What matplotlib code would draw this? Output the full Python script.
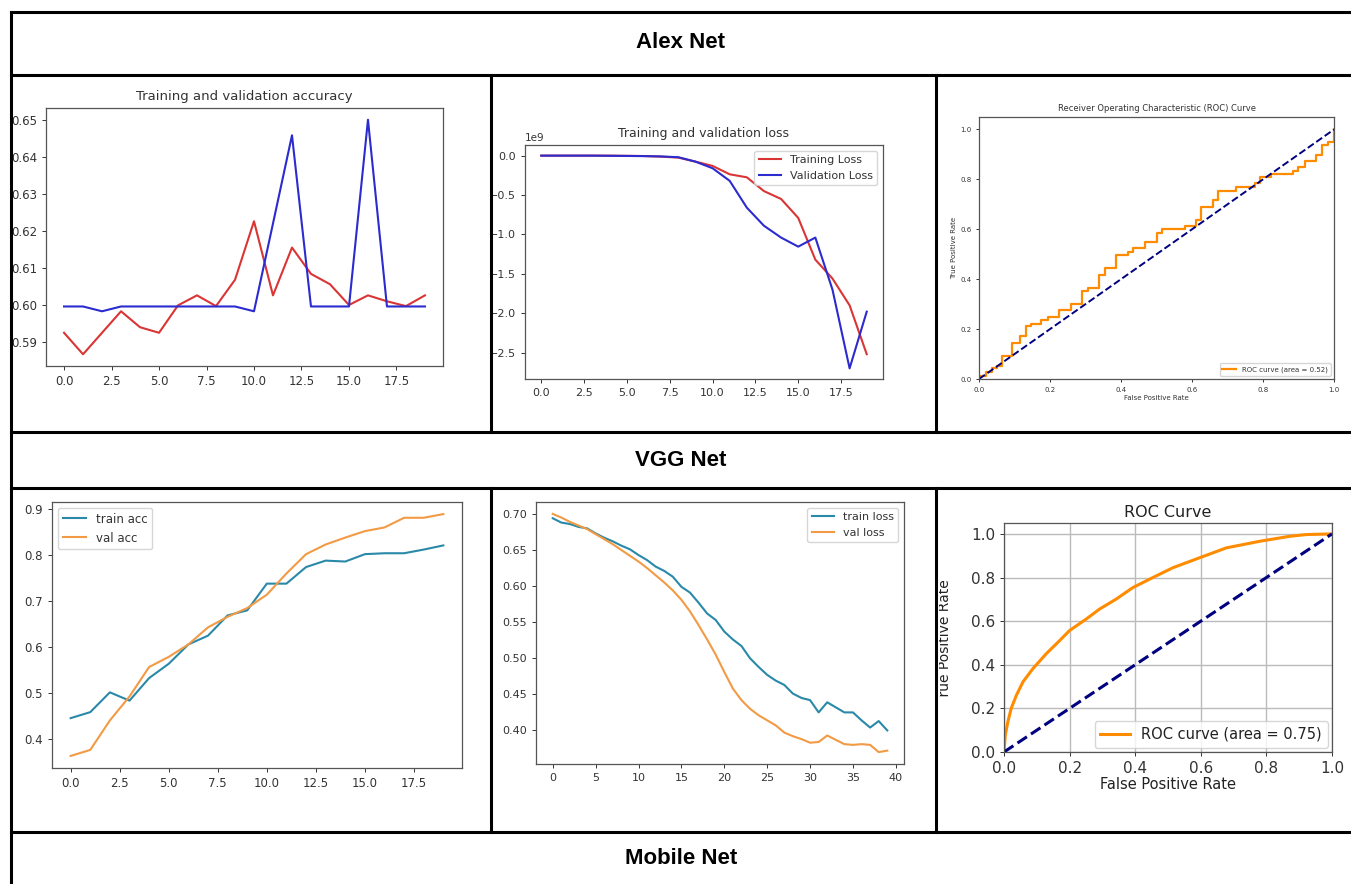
import numpy as np
import matplotlib
matplotlib.use('Agg')
import matplotlib.pyplot as plt
from matplotlib.lines import Line2D
from matplotlib.transforms import Bbox, TransformedBbox

# ---------------- data ----------------
headers = ["Alex Net", "VGG Net", "Mobile Net"]

alex_epochs = list(range(20))
alex_train_acc = [0.5925, 0.5867, 0.5925, 0.5983, 0.5940, 0.5925, 0.5999, 0.6026, 0.5997, 0.6068,
                  0.6226, 0.6026, 0.6155, 0.6084, 0.6056, 0.6000, 0.6026, 0.6010, 0.5997, 0.6026]
alex_val_acc = [0.5996, 0.5996, 0.5983, 0.5996, 0.5996, 0.5996, 0.5996, 0.5996, 0.5996, 0.5996,
                0.5983, 0.6220, 0.6458, 0.5996, 0.5996, 0.5996, 0.6500, 0.5996, 0.5996, 0.5996]

# losses in units of 1e9
alex_train_loss = [0.0, 0.0, 0.0, 0.0, 0.0, -0.002, -0.005, -0.013, -0.025, -0.076,
                   -0.13, -0.237, -0.275, -0.45, -0.55, -0.79, -1.32, -1.56, -1.90, -2.52]
alex_val_loss = [0.0, 0.0, 0.0, 0.0, -0.002, -0.004, -0.006, -0.010, -0.020, -0.076,
                 -0.16, -0.32, -0.66, -0.89, -1.04, -1.155, -1.04, -1.70, -2.70, -1.98]

alex_fpr = [0.000, 0.000, 0.019, 0.038, 0.051, 0.064, 0.094, 0.115, 0.131, 0.147, 0.176, 0.194,
            0.225, 0.260, 0.291, 0.307, 0.338, 0.354, 0.387, 0.420, 0.434, 0.467, 0.500, 0.516,
            0.579, 0.612, 0.626, 0.659, 0.673, 0.725, 0.777, 0.791, 0.823, 0.885, 0.899, 0.917,
            0.948, 0.967, 0.984, 1.000]
alex_tpr = [0.000, 0.012, 0.029, 0.045, 0.053, 0.092, 0.144, 0.173, 0.212, 0.221, 0.235, 0.249,
            0.275, 0.301, 0.353, 0.365, 0.416, 0.445, 0.495, 0.509, 0.523, 0.548, 0.585, 0.600,
            0.613, 0.639, 0.691, 0.717, 0.755, 0.768, 0.787, 0.809, 0.821, 0.835, 0.848, 0.872,
            0.899, 0.939, 0.949, 1.000]
alex_auc = 0.52

vgg_epochs_acc = list(range(20))
vgg_train_acc = [0.445, 0.458, 0.501, 0.483, 0.532, 0.563, 0.605, 0.624, 0.668, 0.679,
                 0.737, 0.737, 0.773, 0.787, 0.785, 0.801, 0.803, 0.803, 0.811, 0.820]
vgg_val_acc = [0.363, 0.376, 0.440, 0.492, 0.556, 0.578, 0.605, 0.642, 0.665, 0.684,
               0.713, 0.759, 0.801, 0.822, 0.837, 0.851, 0.859, 0.880, 0.880, 0.888]

vgg_epochs_loss = list(range(40))
vgg_train_loss = [0.694, 0.688, 0.686, 0.682, 0.680, 0.673, 0.667, 0.662, 0.656, 0.651,
                  0.643, 0.636, 0.627, 0.621, 0.613, 0.599, 0.591, 0.577, 0.562, 0.553,
                  0.537, 0.526, 0.517, 0.500, 0.488, 0.477, 0.469, 0.463, 0.451, 0.445,
                  0.442, 0.425, 0.439, 0.432, 0.425, 0.425, 0.414, 0.404, 0.413, 0.400]
vgg_val_loss = [0.700, 0.695, 0.689, 0.684, 0.679, 0.672, 0.665, 0.658, 0.650, 0.642,
                0.634, 0.625, 0.615, 0.605, 0.594, 0.581, 0.565, 0.546, 0.526, 0.505,
                0.481, 0.458, 0.442, 0.430, 0.421, 0.414, 0.407, 0.397, 0.392, 0.388,
                0.383, 0.384, 0.393, 0.387, 0.381, 0.380, 0.381, 0.380, 0.370, 0.372]

vgg_fpr = [0.0, 0.004, 0.012, 0.022, 0.038, 0.058, 0.088, 0.129, 0.165, 0.200, 0.251, 0.292,
           0.342, 0.393, 0.454, 0.515, 0.597, 0.678, 0.779, 0.871, 0.922, 1.0]
vgg_tpr = [0.0, 0.079, 0.140, 0.200, 0.261, 0.322, 0.382, 0.451, 0.504, 0.557, 0.610, 0.656,
           0.701, 0.754, 0.800, 0.845, 0.891, 0.936, 0.966, 0.989, 0.997, 1.0]
vgg_auc = 0.75

# ---------------- figure ----------------
W, H = 1351, 884
fig = plt.figure(figsize=(W / 100, H / 100), dpi=100)
fig.patch.set_facecolor('white')


def ax_px(l, t, r, b):
    return fig.add_axes([l / W, 1 - b / H, (r - l) / W, (b - t) / H])


def line_px(x0, y0, x1, y1):
    fig.add_artist(Line2D([x0 / W, x1 / W], [1 - y0 / H, 1 - y1 / H],
                          transform=fig.transFigure, color='black', lw=2.2,
                          solid_capstyle='projecting'))


def style(ax, fs, tl=3.0):
    for s in ax.spines.values():
        s.set_color('#555555')
        s.set_linewidth(0.9)
    ax.tick_params(labelsize=fs, colors='#333333', length=tl, width=0.7)


# table grid
for y in [12, 75, 432, 488, 832]:
    line_px(11, y, 1351, y)
line_px(11, 12, 11, 884)
for x in [491, 936]:
    line_px(x, 75, x, 432)
    line_px(x, 488, x, 832)

hfont = dict(family='Liberation Sans', fontweight='bold', fontsize=16, ha='center', va='center')
fig.text(681 / W, 1 - 42 / H, headers[0], **hfont)
fig.text(681 / W, 1 - 460 / H, headers[1], **hfont)
fig.text(681 / W, 1 - 859 / H, headers[2], **hfont)

# ---- Alex accuracy ----
ax = ax_px(46, 108, 443, 366)
ax.plot(alex_epochs, alex_train_acc, color='#d93535', lw=1.5)
ax.plot(alex_epochs, alex_val_acc, color='#2b2bcf', lw=1.5)
ax.set_xlim(-0.95, 19.95)
ax.set_title('Training and validation accuracy', fontsize=9.5, color='#333333')
style(ax, 8.5)

# ---- Alex loss ----
ax = ax_px(525, 145, 883, 379)
ax.plot(alex_epochs, np.array(alex_train_loss) * 1e9, color='#d93535', lw=1.5, label='Training Loss')
ax.plot(alex_epochs, np.array(alex_val_loss) * 1e9, color='#2b2bcf', lw=1.5, label='Validation Loss')
ax.set_xlim(-0.95, 19.95)
ax.set_title('Training and validation loss', fontsize=9, color='#333333')
style(ax, 8)
ax.yaxis.get_offset_text().set_fontsize(7.5)
ax.yaxis.get_offset_text().set_color('#333333')
ax.legend(loc='upper right', fontsize=8, handlelength=2.0, labelcolor='#333333')

# ---- Alex ROC ----
ax = ax_px(979, 117, 1334, 379)
ax.plot(alex_fpr, alex_tpr, color='darkorange', lw=1.6, drawstyle='steps-post',
        label='ROC curve (area = %0.2f)' % alex_auc)
ax.plot([0, 1], [0, 1], color='navy', lw=1.4, linestyle='--')
ax.set_xlim(0, 1)
ax.set_ylim(0, 1.05)
ax.set_title('Receiver Operating Characteristic (ROC) Curve', fontsize=6, color='#333333', pad=4)
ax.set_xlabel('False Positive Rate', fontsize=5, color='#333333', labelpad=2)
ax.set_ylabel('True Positive Rate', fontsize=5, color='#333333', labelpad=2)
style(ax, 5, tl=2)
ax.legend(loc='lower right', fontsize=5, labelcolor='#333333')

# ---- VGG accuracy ----
c_blue = '#2a89a8'
c_orange = '#f29a44'
ax = ax_px(52, 502, 462, 768)
ax.plot(vgg_epochs_acc, vgg_train_acc, color=c_blue, lw=1.5, label='train acc')
ax.plot(vgg_epochs_acc, vgg_val_acc, color=c_orange, lw=1.5, label='val acc')
ax.set_xlim(-0.95, 19.95)
ax.set_yticks([0.4, 0.5, 0.6, 0.7, 0.8, 0.9])
style(ax, 8.5)
ax.legend(loc='upper left', fontsize=8.5, labelcolor='#333333')

# ---- VGG loss ----
ax = ax_px(536, 502, 904, 764)
ax.plot(vgg_epochs_loss, vgg_train_loss, color=c_blue, lw=1.5, label='train loss')
ax.plot(vgg_epochs_loss, vgg_val_loss, color=c_orange, lw=1.5, label='val loss')
ax.set_xlim(-1.95, 40.95)
ax.set_yticks([0.40, 0.45, 0.50, 0.55, 0.60, 0.65, 0.70])
ax.yaxis.set_major_formatter(matplotlib.ticker.FormatStrFormatter('%.2f'))
style(ax, 8)
ax.legend(loc='upper right', fontsize=8, labelcolor='#333333')

# ---- VGG ROC ----
ax = ax_px(1004, 523, 1332, 752)
ax.plot(vgg_fpr, vgg_tpr, color='darkorange', lw=2.2, label='ROC curve (area = %0.2f)' % vgg_auc)
ax.plot([0, 1], [0, 1], color='navy', lw=2.2, linestyle='--')
ax.set_xlim(0, 1)
ax.set_ylim(0, 1.05)
ax.grid(True, color='#bbbbbb', lw=1.0)
ax.set_axisbelow(True)
ax.set_title('ROC Curve', fontsize=11.5, color='#222222', pad=4)
ax.set_xlabel('False Positive Rate', fontsize=10.5, color='#222222', labelpad=1)
yl = ax.set_ylabel('True Positive Rate', fontsize=10, color='#222222')
ax.yaxis.set_label_coords(-0.16, 0.485)
# the source screenshot is cropped: the leading letter of this label is cut off
yl.set_clip_box(TransformedBbox(Bbox.from_extents(939 / W, 1 - 698 / H, 1, 1), fig.transFigure))
yl.set_clip_on(True)
style(ax, 11, tl=3)
ax.legend(loc='lower right', fontsize=10.5, labelcolor='#222222', borderaxespad=0.3)

fig.savefig('out.png', dpi=100, facecolor='white')
